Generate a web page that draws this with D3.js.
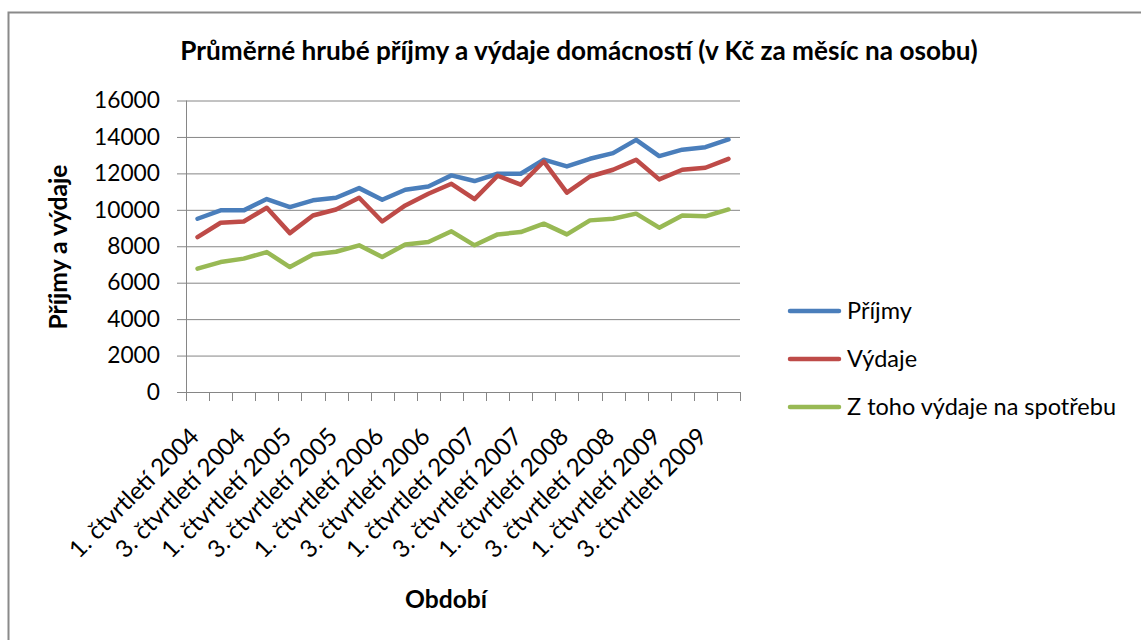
<!DOCTYPE html>
<html>
<head>
<meta charset="utf-8">
<script src="https://cdn.jsdelivr.net/npm/d3@7"></script>
<style>
  body { margin: 0; background: #fff; }
  text { font-family: Lato, "Open Sans", sans-serif; fill: #000; }
</style>
</head>
<body>
<div id="chart"></div>
<script>
// quarters 2004 Q1 .. 2009 Q4
const years = [2004, 2005, 2006, 2007, 2008, 2009];
const quarters = [1, 2, 3, 4];
const categories = years.flatMap(y => quarters.map(q => `${q}. čtvrtletí ${y}`));

const prijmy   = [9510, 9970, 9970, 10590, 10150, 10520, 10660, 11190, 10550, 11100, 11280, 11890,
                  11580, 11980, 11980, 12750, 12380, 12800, 13110, 13840, 12950, 13300, 13440, 13860];
const vydaje   = [8500, 9290, 9360, 10110, 8720, 9690, 10020, 10660, 9360, 10240, 10880, 11430,
                  10590, 11870, 11380, 12650, 10940, 11830, 12200, 12750, 11670, 12200, 12310, 12800];
const spotreba = [6770, 7130, 7320, 7680, 6860, 7550, 7700, 8050, 7410, 8100, 8230, 8820,
                  8050, 8650, 8780, 9240, 8650, 9420, 9510, 9790, 9020, 9690, 9640, 10020];

const seriesNames = ["Příjmy", "Výdaje", "Z toho výdaje na spotřebu"];
const colors = ["#4a7ebb", "#be4b48", "#98b954"];
const yTicks = [0, 2000, 4000, 6000, 8000, 10000, 12000, 14000, 16000];

const series = [prijmy, vydaje, spotreba].map((values, i) => ({ name: seriesNames[i], color: colors[i], values }));

const width = 1141, height = 640;
const plot = { left: 186, right: 740, top: 100.5, bottom: 392 };
const axisColor = "#868686";

const svg = d3.select("#chart").append("svg")
  .attr("width", width)
  .attr("height", height);

// chart frame
svg.append("rect")
  .attr("x", 8.5).attr("y", 12.5)
  .attr("width", width + 20).attr("height", height + 20)
  .attr("fill", "none")
  .attr("stroke", "#8a8a8a")
  .attr("stroke-width", 2);

// scale font so a string hits a target width
function fitSize(str, target, weight) {
  const t = svg.append("text").attr("font-size", 100).attr("font-weight", weight || "normal").text(str);
  const w = t.node().getComputedTextLength();
  t.remove();
  return 100 * target / w;
}
const tickSize = fitSize("16000", 66);
const catSize = fitSize("1. čtvrtletí 2004", 172);
const legendSize = fitSize("Z toho výdaje na spotřebu", 269);
const titleSize = fitSize("Průměrné hrubé příjmy a výdaje domácností (v Kč za měsíc na osobu)", 798, "bold");
const axisTitleSize = fitSize("Příjmy a výdaje", 165, "bold");

const x = d3.scaleBand()
  .domain(categories)
  .range([plot.left, plot.right])
  .padding(0);

const y = d3.scaleLinear()
  .domain([0, 16000])
  .range([plot.bottom, plot.top]);

// gridlines
svg.append("g")
  .attr("transform", `translate(${plot.left},0)`)
  .call(d3.axisRight(y).tickValues(yTicks).tickSize(plot.right - plot.left).tickFormat(""))
  .call(g => g.select(".domain").remove())
  .call(g => g.selectAll("line").attr("stroke", axisColor));

// y axis
svg.append("g")
  .attr("transform", `translate(${plot.left},0)`)
  .call(d3.axisLeft(y).tickValues(yTicks).tickSize(9).tickPadding(17).tickSizeOuter(0).tickFormat(d3.format("d")))
  .call(g => g.select(".domain").attr("d", `M0.5,${plot.top}V${plot.bottom + 9}`).attr("stroke", axisColor))
  .call(g => g.selectAll("line").attr("stroke", axisColor))
  .call(g => g.selectAll("text")
    .attr("font-family", "Lato, 'Open Sans', sans-serif")
    .attr("font-size", tickSize)
    .attr("fill", "#000"));

// x axis line and tick marks at category boundaries
const xAxis = svg.append("g");
xAxis.append("line")
  .attr("x1", plot.left).attr("x2", plot.right)
  .attr("y1", plot.bottom + 0.5).attr("y2", plot.bottom + 0.5)
  .attr("stroke", axisColor);
xAxis.selectAll("line.tick")
  .data(categories.map(c => x(c)).concat([plot.right]))
  .join("line")
  .attr("class", "tick")
  .attr("x1", d => Math.round(d) + 0.5).attr("x2", d => Math.round(d) + 0.5)
  .attr("y1", plot.bottom).attr("y2", plot.bottom + 9)
  .attr("stroke", axisColor);

// category labels, every second one
xAxis.selectAll("text")
  .data(categories.filter((c, i) => i % 2 === 0))
  .join("text")
  .attr("text-anchor", "end")
  .attr("font-size", catSize)
  .attr("transform", d => `translate(${x(d) + x.bandwidth() / 2 + 3},438) rotate(-45)`)
  .text(d => d);

// lines
const line = d3.line()
  .x((d, i) => x(categories[i]) + x.bandwidth() / 2)
  .y(d => y(d));

svg.append("g")
  .selectAll("path")
  .data(series)
  .join("path")
  .attr("d", d => line(d.values))
  .attr("fill", "none")
  .attr("stroke", d => d.color)
  .attr("stroke-width", 4.5)
  .attr("stroke-linejoin", "round")
  .attr("stroke-linecap", "round");

// title
svg.append("text")
  .attr("x", 579).attr("y", 60)
  .attr("text-anchor", "middle")
  .attr("font-weight", "bold")
  .attr("font-size", titleSize)
  .text("Průměrné hrubé příjmy a výdaje domácností (v Kč za měsíc na osobu)");

// axis titles
svg.append("text")
  .attr("transform", "translate(67,247) rotate(-90)")
  .attr("text-anchor", "middle")
  .attr("font-weight", "bold")
  .attr("font-size", axisTitleSize)
  .text("Příjmy a výdaje");

svg.append("text")
  .attr("x", 446).attr("y", 608)
  .attr("text-anchor", "middle")
  .attr("font-weight", "bold")
  .attr("font-size", axisTitleSize)
  .text("Období");

// legend
const legend = svg.append("g")
  .selectAll("g")
  .data(series)
  .join("g")
  .attr("transform", (d, i) => `translate(788,${311 + i * 48})`);

legend.append("line")
  .attr("x1", 2).attr("x2", 51)
  .attr("stroke", d => d.color)
  .attr("stroke-width", 4.5)
  .attr("stroke-linecap", "round");

legend.append("text")
  .attr("x", 59)
  .attr("dy", "0.35em")
  .attr("font-size", legendSize)
  .text(d => d.name);
</script>
</body>
</html>
